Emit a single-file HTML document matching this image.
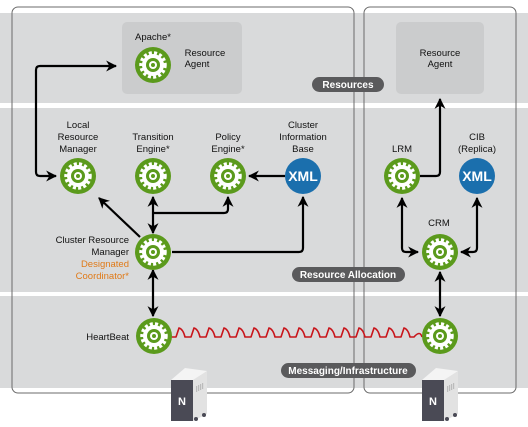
<!DOCTYPE html>
<html><head><meta charset="utf-8"><style>
html,body{margin:0;padding:0;background:#fff;}
svg{display:block;font-family:"Liberation Sans",sans-serif;}
</style></head><body>
<svg width="528" height="427" viewBox="0 0 528 427" xmlns="http://www.w3.org/2000/svg">
<defs>
<marker id="ah" viewBox="0 0 10 10" refX="9" refY="5" markerWidth="5" markerHeight="5" orient="auto-start-reverse" markerUnits="strokeWidth">
<path d="M0,0 L10,5 L0,10 L3,5 z" fill="#000"/></marker>
<g id="gear">
<circle r="18" fill="#5b9a1c"/>
<circle r="12" fill="none" stroke="#fff" stroke-width="3.5" stroke-dasharray="3 2.2"/>
<circle r="11" fill="#fff"/>
<circle r="7" fill="#5b9a1c"/>
<circle r="4" fill="#fff"/>
<circle r="2" fill="#5b9a1c"/>
</g>
<g id="xml">
<circle r="18" fill="#1b6fad"/>
<text y="5" text-anchor="middle" font-size="14" font-weight="bold" fill="#fff">XML</text>
</g>
<g id="srv">
<path d="M0,12 L22,12 L22,53 L0,53 z" fill="#4a4a55"/>
<path d="M22,12 L36,3 L36,46 L22,53 z" fill="#e2e2e2"/>
<path d="M0,12 L14,0 L36,3 L22,12 z" fill="#f4f4f4"/>
<text x="11" y="37" text-anchor="middle" font-size="11" font-weight="bold" fill="#fff">N</text>
<g fill="#bbb"><rect x="25" y="18" width="1.2" height="6"/><rect x="27" y="17" width="1.2" height="6"/><rect x="29" y="16" width="1.2" height="6"/><rect x="31" y="15" width="1.2" height="6"/></g>
<circle cx="25" cy="51" r="2" fill="#4a4a55"/><circle cx="33" cy="47" r="2" fill="#4a4a55"/>
</g>
</defs>
<rect x="0" y="13" width="528" height="90" fill="#d9dadb"/>
<rect x="0" y="108" width="528" height="184" fill="#d9dadb"/>
<rect x="0" y="296" width="528" height="92" fill="#d9dadb"/>
<rect x="12" y="7" width="342" height="386" rx="6" fill="none" stroke="#6b6b6b" stroke-width="1"/>
<rect x="364" y="7" width="152" height="386" rx="6" fill="none" stroke="#6b6b6b" stroke-width="1"/>
<rect x="122" y="22" width="120" height="72" rx="5" fill="#cbcccd"/>
<rect x="396" y="22" width="88" height="72" rx="5" fill="#cbcccd"/>
<g font-size="9.5" fill="#111" text-anchor="middle">
<text x="153" y="40">Apache*</text>
<text x="205" y="56">Resource</text><text x="197" y="67">Agent</text>
<text x="440" y="56">Resource</text><text x="440" y="67">Agent</text>
<text x="78" y="128">Local</text><text x="78" y="140">Resource</text><text x="78" y="152">Manager</text>
<text x="153" y="140">Transition</text><text x="153" y="152">Engine*</text>
<text x="228" y="140">Policy</text><text x="228" y="152">Engine*</text>
<text x="303" y="128">Cluster</text><text x="303" y="140">Information</text><text x="303" y="152">Base</text>
<text x="402" y="152">LRM</text>
<text x="477" y="140">CIB</text><text x="477" y="152">(Replica)</text>
<text x="439" y="226">CRM</text>
</g>
<g font-size="9.5" text-anchor="end">
<text x="129" y="243" fill="#111">Cluster Resource</text>
<text x="129" y="255" fill="#111">Manager</text>
<text x="129" y="267" fill="#e07a18">Designated</text>
<text x="129" y="279" fill="#e07a18">Coordinator*</text>
<text x="129" y="340" fill="#111">HeartBeat</text>
</g>
<g font-size="10" font-weight="bold" fill="#fff" text-anchor="middle">
<rect x="312" y="77" width="72" height="15" rx="7.5" fill="#5a5a5c"/><text x="348" y="88">Resources</text>
<rect x="292" y="267" width="113" height="15" rx="7.5" fill="#5a5a5c"/><text x="348" y="278">Resource Allocation</text>
<rect x="281" y="363" width="135" height="15" rx="7.5" fill="#5a5a5c"/><text x="348" y="374">Messaging/Infrastructure</text>
</g>
<g fill="none" stroke="#000" stroke-width="2.2" stroke-linejoin="round">
<path d="M116,66 L40,66 Q36,66 36,70 L36,172 Q36,176 40,176 L56,176" marker-end="url(#ah)" marker-start="url(#ah)"/>
<path d="M140,237 L99,198" marker-end="url(#ah)"/>
<path d="M153,233 L153,197" marker-start="url(#ah)" marker-end="url(#ah)"/>
<path d="M153,213 L224,213 Q228,213 228,209 L228,197" marker-end="url(#ah)"/>
<path d="M172,252 L299,252 Q303,252 303,248 L303,197" marker-end="url(#ah)"/>
<path d="M285,176 L249,176" marker-end="url(#ah)"/>
<path d="M153,270 L153,316" marker-start="url(#ah)" marker-end="url(#ah)"/>
<path d="M420,176 L436,176 Q440,176 440,172 L440,99" marker-end="url(#ah)"/>
<path d="M402,198 L402,248 Q402,252 406,252 L418,252" marker-start="url(#ah)" marker-end="url(#ah)"/>
<path d="M477,198 L477,248 Q477,252 473,252 L461,252" marker-start="url(#ah)" marker-end="url(#ah)"/>
<path d="M440,272 L440,316" marker-start="url(#ah)" marker-end="url(#ah)"/>
</g>
<path d="M170,337 L176,337 L179,328 Q183,329 185,337 L191,337 L194,328 Q198,329 200,337 L206,337 L209,328 Q213,329 215,337 L221,337 L224,328 Q228,329 230,337 L236,337 L239,328 Q243,329 245,337 L251,337 L254,328 Q258,329 260,337 L266,337 L269,328 Q273,329 275,337 L281,337 L284,328 Q288,329 290,337 L296,337 L299,328 Q303,329 305,337 L311,337 L314,328 Q318,329 320,337 L326,337 L329,328 Q333,329 335,337 L341,337 L344,328 Q348,329 350,337 L356,337 L359,328 Q363,329 365,337 L371,337 L374,328 Q378,329 380,337 L386,337 L389,328 Q393,329 395,337 L401,337 L404,328 Q408,329 410,337 L414,337 Q420,330 422,337" fill="none" stroke="#c8151b" stroke-width="1.6" stroke-linejoin="round"/>
<use href="#gear" x="153" y="65"/>
<use href="#gear" x="78" y="176"/>
<use href="#gear" x="153" y="176"/>
<use href="#gear" x="228" y="176"/>
<use href="#xml" x="303" y="176"/>
<use href="#gear" x="402" y="176"/>
<use href="#xml" x="477" y="176"/>
<use href="#gear" x="153" y="252"/>
<use href="#gear" x="440" y="252"/>
<use href="#gear" x="154" y="336"/>
<use href="#gear" x="440" y="336"/>
<use href="#srv" x="171" y="368"/>
<use href="#srv" x="422" y="368"/>
</svg>
</body></html>
